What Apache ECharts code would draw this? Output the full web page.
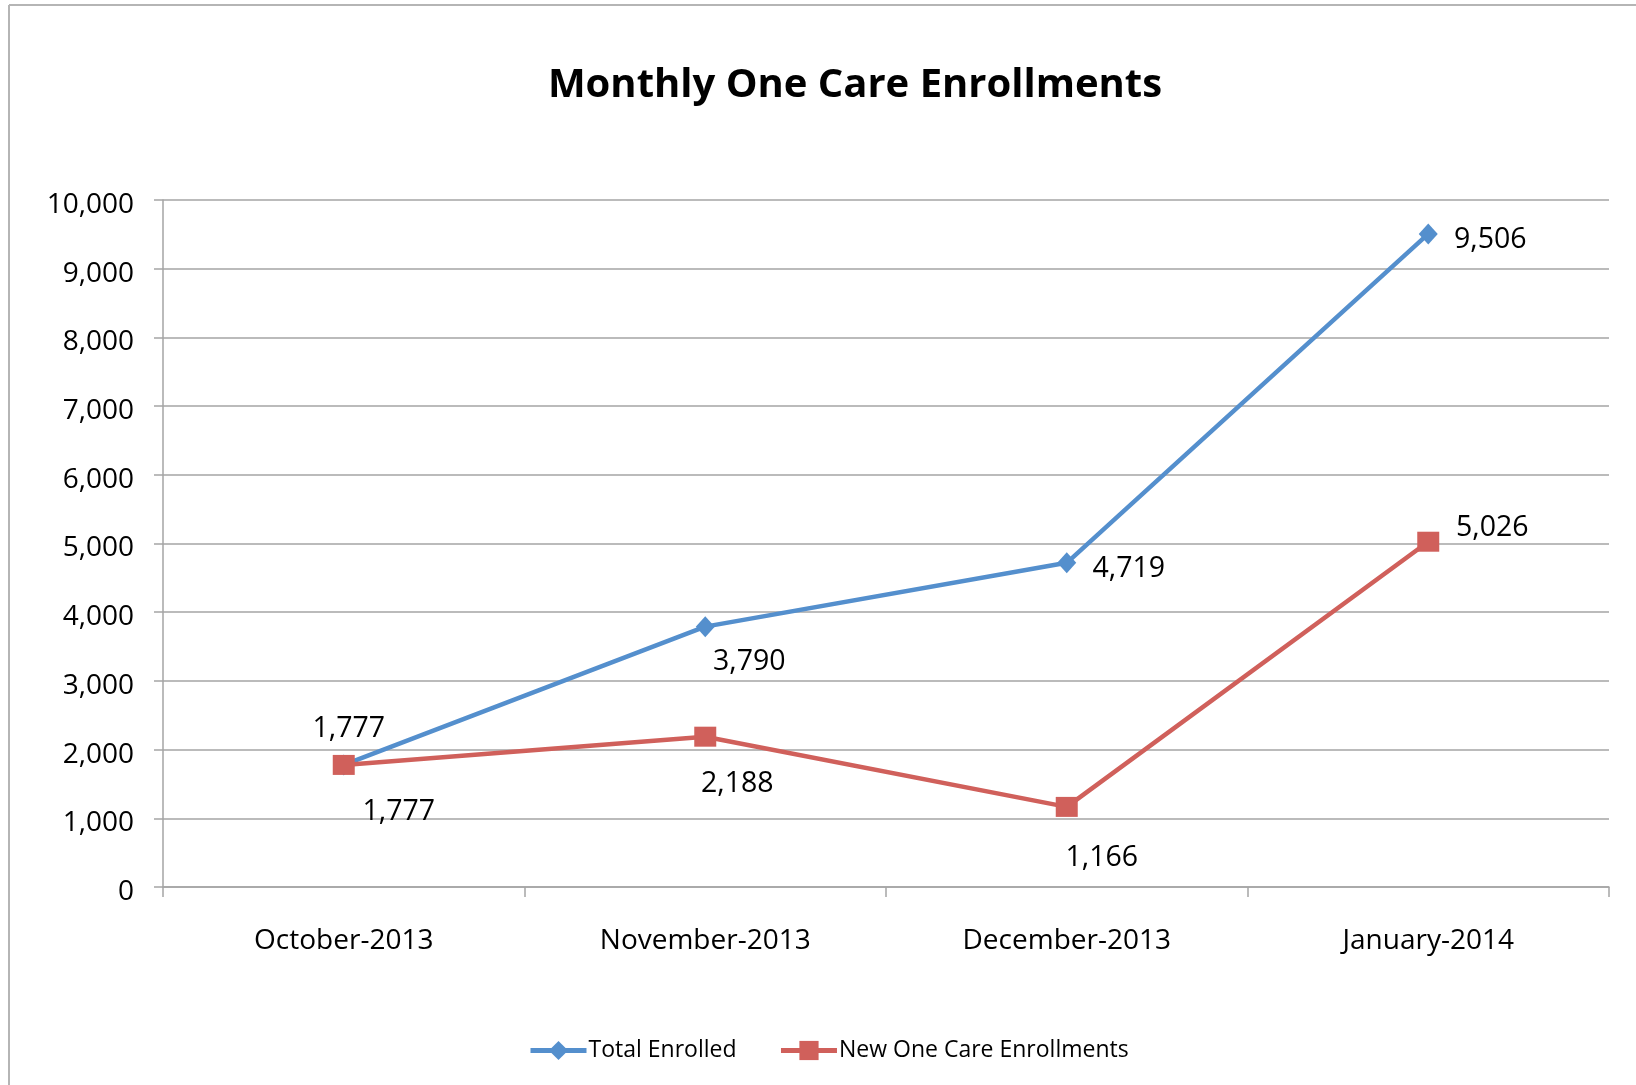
<!DOCTYPE html>
<html>
<head>
<meta charset="utf-8">
<script src="https://cdn.jsdelivr.net/npm/echarts@6/dist/echarts.min.js"></script>
<style>
html,body{margin:0;padding:0;background:#fff;}
#chart{width:1636px;height:1085px;}
</style>
</head>
<body>
<div id="chart"></div>
<script>
const categories = ['October-2013', 'November-2013', 'December-2013', 'January-2014'];
const totalEnrolled = [1777, 3790, 4719, 9506];
const newEnrollments = [1777, 2188, 1166, 5026];
const yTicks = {min: 0, max: 10000, interval: 1000};

// label offsets (style only, relative to each point)
const totalLabelOffsets = [[5, -36], [44, 35], [62, 6], [62, 6]];
const newLabelOffsets = [[55, 47], [32, 47], [35, 51], [64, -14]];

const FONT = '"Open Sans", sans-serif';
const BLUE = '#548fcd';
const RED = '#d0605b';

function withLabels(values, offsets) {
  return values.map((v, i) => ({
    value: v,
    label: {offset: offsets[i]}
  }));
}

const chart = echarts.init(document.getElementById('chart'), null, {renderer: 'canvas'});
chart.setOption({
  animation: false,
  backgroundColor: '#fff',
  textStyle: {fontFamily: FONT},
  title: {
    text: 'Monthly One Care Enrollments',
    left: 850, top: 61, textAlign: 'center',
    textStyle: {fontFamily: FONT, fontWeight: 'bold', fontSize: 40, color: '#000'}
  },
  graphic: [
    {type: 'line', shape: {x1: 9, y1: 5, x2: 1636, y2: 5}, style: {stroke: '#b5b5b5', lineWidth: 2}},
    {type: 'line', shape: {x1: 9, y1: 5, x2: 9, y2: 1085}, style: {stroke: '#b5b5b5', lineWidth: 2}}
  ],
  legend: {
    left: 523, top: 1034,
    itemWidth: 56, itemHeight: 24, itemGap: 42,
    lineStyle: {width: 5},
    textStyle: {fontFamily: FONT, fontSize: 23, color: '#000', padding: [0, 0, 0, -3]},
    data: ['Total Enrolled', 'New One Care Enrollments']
  },
  grid: {left: 163, right: 27, top: 200, bottom: 198, containLabel: false},
  xAxis: {
    type: 'category',
    data: categories,
    boundaryGap: true,
    axisLine: {lineStyle: {color: '#a5a5a5', width: 1.5}},
    axisTick: {show: true, length: 10, alignWithLabel: false, lineStyle: {color: '#a5a5a5', width: 1.5}},
    axisLabel: {fontFamily: FONT, fontSize: 28, color: '#000', margin: 40}
  },
  yAxis: {
    type: 'value',
    min: yTicks.min, max: yTicks.max, interval: yTicks.interval,
    axisLine: {show: true, lineStyle: {color: '#a5a5a5', width: 1.5}},
    axisTick: {show: true, length: 9, lineStyle: {color: '#a5a5a5', width: 1.5}},
    splitLine: {show: true, lineStyle: {color: '#a5a5a5', width: 1.5}},
    axisLabel: {
      fontFamily: FONT, fontSize: 28, color: '#000', margin: 29,
      formatter: v => '{v|' + v.toLocaleString('en-US') + '}',
      rich: {v: {fontFamily: FONT, fontSize: 28, color: '#000', padding: [10, 0, 0, 0]}}
    }
  },
  series: [
    {
      name: 'Total Enrolled',
      type: 'line',
      data: withLabels(totalEnrolled, totalLabelOffsets),
      symbol: 'diamond', symbolSize: [19, 21],
      lineStyle: {color: BLUE, width: 4.5},
      itemStyle: {color: BLUE},
      label: {
        show: true, position: 'inside', align: 'center', verticalAlign: 'middle',
        fontFamily: FONT, fontSize: 28.5, color: '#000',
        formatter: p => p.value.toLocaleString('en-US')
      }
    },
    {
      name: 'New One Care Enrollments',
      type: 'line',
      data: withLabels(newEnrollments, newLabelOffsets),
      symbol: 'rect', symbolSize: [22, 20],
      lineStyle: {color: RED, width: 4.5},
      itemStyle: {color: RED},
      label: {
        show: true, position: 'inside', align: 'center', verticalAlign: 'middle',
        fontFamily: FONT, fontSize: 28.5, color: '#000',
        formatter: p => p.value.toLocaleString('en-US')
      }
    }
  ]
});
</script>
</body>
</html>
